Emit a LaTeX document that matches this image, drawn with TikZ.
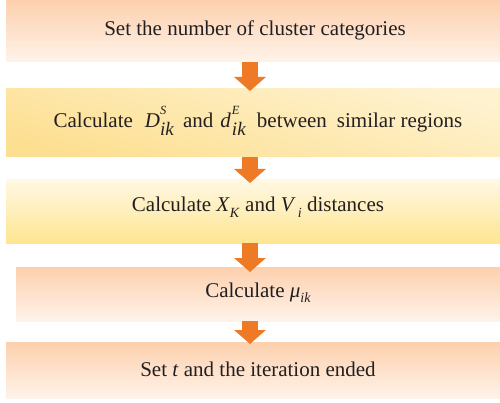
\documentclass[tikz,border=0pt]{standalone}
\usepackage{fontspec}
\setmainfont{Liberation Serif}
\usetikzlibrary{arrows.meta}
\definecolor{arrowc}{HTML}{EE7A26}
\definecolor{txt}{HTML}{231F20}
\definecolor{peachtop}{HTML}{FDD0AD}
\definecolor{peachbot}{HTML}{FEF3EA}
\definecolor{yeltopA}{HTML}{FEF2CF}
\definecolor{yelbotA}{HTML}{FDDF91}
\definecolor{yeltopB}{HTML}{FFF8E3}
\definecolor{yelbotB}{HTML}{FEE591}
\newcommand\mysupsub[5]{\textit{#1}\kern#4\rlap{\raisebox{0.6em}{\fontsize{12.5}{12.5}\selectfont\textit{#2}}}\raisebox{#5}{\fontsize{19}{19}\selectfont\textit{#3}}}
\newcommand\mysub[4]{\textit{#1}\kern#3\raisebox{#4}{\fontsize{14}{14}\selectfont\textit{#2}}}
\begin{document}
\begin{tikzpicture}[x=1pt,y=-1pt,
  box/.style={inner sep=0pt, outer sep=0pt, minimum width=#1, text=txt,
    font=\fontsize{21}{25}\selectfont},
  lbl/.style={text=txt, font=\fontsize{21}{25}\selectfont, inner sep=0pt},
  peach/.style={top color=peachtop, bottom color=peachbot},
  yelA/.style={top color=yeltopA, bottom color=yelbotA, shading angle=-15},
  yelB/.style={top color=yeltopB, bottom color=yelbotB},
  blockarrow/.style={draw=arrowc, line width=16pt,
    -{Triangle[width=31pt,length=14pt]}}]
\useasboundingbox (0,0) rectangle (500,403);
\node[box=494pt, minimum height=62pt, peach] (b1) at (253,31) {};
\node[lbl] (t1) at (255,30) {Set the number of cluster categories};
\node[box=494pt, minimum height=68pt, yelA] (b2) at (253,123) {};
\node[lbl] (t2) at (258,121) {Calculate\hspace{12pt}\mysupsub{D}{S}{ik}{0pt}{-0.4em}\hspace{9pt}and\hspace{7pt}\mysupsub{d}{E}{ik}{1pt}{-0.4em}\hspace{11pt}between\hspace{10pt}similar regions};
\node[box=494pt, minimum height=63pt, yelB] (b3) at (253,211.5) {};
\node[lbl] (t3) at (258,207) {Calculate \mysub{X}{K}{0pt}{-0.3em} and \mysub{V}{\,i}{0pt}{-0.3em} distances};
\node[box=484pt, minimum height=54pt, peach] (b4) at (258,294) {};
\node[lbl] (t4) at (258,293) {Calculate \mysub{μ}{ik}{0pt}{-0.25em}};
\node[box=494pt, minimum height=56pt, peach] (b5) at (253,370) {};
\node[lbl] (t5) at (258,369) {Set \textit{t} and the iteration ended};
\coordinate (ax) at (250,0);
\draw[blockarrow] (b1.south -| ax) -- ([yshift=-2pt]b2.north -| ax);
\draw[blockarrow] (b2.south -| ax) -- ([yshift=-3pt]b3.north -| ax);
\draw[blockarrow] (b3.south -| ax) -- ([yshift=-5pt]b4.north -| ax);
\draw[blockarrow] (b4.south -| ax) -- ([yshift=-2pt]b5.north -| ax);
\end{tikzpicture}
\end{document}
